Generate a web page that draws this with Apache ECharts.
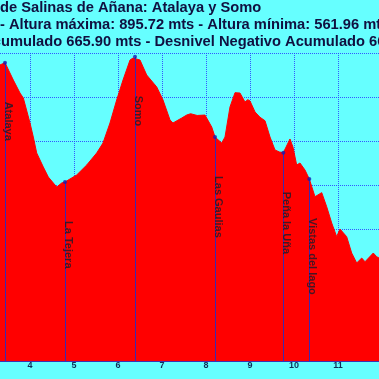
<!DOCTYPE html>
<html>
<head>
<meta charset="utf-8">
<script src="https://cdn.jsdelivr.net/npm/echarts@6/dist/echarts.min.js"></script>
<style>
html,body{margin:0;padding:0;background:#66ffff;}
#c{width:379px;height:379px;}
</style>
</head>
<body>
<div id="c"></div>
<script>
// Profile: distance (km) and altitude (m)
var distKm = [3.25,3.318,3.432,3.621,3.773,3.848,4.0,4.075,4.152,4.302,4.416,4.607,4.72,4.795,5.061,5.289,5.516,5.659,5.818,5.97,6.114,6.273,6.341,6.386,6.5,6.652,6.88,7.023,7.182,7.25,7.448,7.561,7.65,7.8,7.977,8.13,8.205,8.357,8.432,8.545,8.659,8.773,8.886,8.95,9.0,9.114,9.227,9.341,9.455,9.568,9.67,9.757,9.909,9.977,10.061,10.136,10.25,10.348,10.477,10.63,10.743,10.857,10.97,11.045,11.197,11.311,11.425,11.539,11.614,11.802,11.88,11.932,12.0];
var altitude = [875,886.4,889.0,869.3,854.5,848.9,820.5,804.5,786.4,770.5,759.1,747.7,752.3,753.4,761.4,772.7,786.4,797.7,820.5,846.6,869.3,892.0,894.3,895.72,892.0,875.0,861.4,846.6,823.9,820.5,826.1,829.5,831,829,829.5,815.9,804.5,797.7,804.5,838.6,854.9,854.5,844.3,847,845.5,833.0,827,823,804.5,789.8,787.5,786.7,802.3,793,772.7,775.0,767.0,756.8,736.7,741.3,725.3,706.8,691.3,700.0,691.3,672.7,661.4,667.0,662.8,672.7,668.5,667.0,664];

// Waypoints
var wpNames = ["Atalaya","La Tejera","Somo","Las Gaulias","Peña la Uña","Vistas del lago"];
var wpKm = [3.432,4.795,6.386,8.205,9.757,10.348];
var wpAlt = [889.0,753.4,895.72,804.5,786.7,756.8];

var titleLines = [
  "de Salinas de Añana: Atalaya y Somo",
  "- Altura máxima: 895.72 mts - Altura mínima: 561.96 mts",
  "Desnivel Positivo Acumulado 665.90 mts - Desnivel Negativo Acumulado 665.90 mts"
];

var profile = distKm.map(function(k,i){return [k, altitude[i]];});
var wps = wpKm.map(function(k,i){return {value:[k, wpAlt[i]], name: wpNames[i]};});
var wpLines = wpKm.map(function(k,i){return [{coord:[k, wpAlt[i]]},{coord:[k, 550]}];});

var chart = echarts.init(document.getElementById('c'), null, {renderer:'canvas'});
var fontFam = '"Liberation Sans", Arial, sans-serif';
var tFont = 'bold 14.7px ' + fontFam;
chart.setOption({
  backgroundColor: '#66ffff',
  animation: false,
  graphic: [
    {type:'text', x:0, y:8, style:{text:titleLines[0], font:tFont, fill:'#101040', verticalAlign:'middle'}},
    {type:'text', x:0, y:25, style:{text:titleLines[1], font:tFont, fill:'#101040', verticalAlign:'middle'}},
    {type:'text', x:-143.5, y:42, style:{text:titleLines[2], font:tFont, fill:'#101040', verticalAlign:'middle'}}
  ],
  grid: {left:-14, top:53, width:396, height:308, containLabel:false, outerBoundsMode:'none'},
  xAxis: {
    type:'value', min:3, max:12, interval:1, z:3,
    axisLine:{show:true, onZero:false, lineStyle:{color:'#4030b0', width:1}},
    axisTick:{show:false},
    axisLabel:{color:'#10305a', fontSize:9, fontWeight:'bold', fontFamily:fontFam, margin:0, showMaxLabel:false, showMinLabel:false},
    splitLine:{show:true, lineStyle:{color:'#2a3cff', type:'dotted', width:1, opacity:0.85}}
  },
  yAxis: {
    type:'value', min:550, max:900, interval:50, z:3,
    axisLine:{show:false}, axisTick:{show:false},
    axisLabel:{show:true, color:'#10305a', fontSize:9, fontWeight:'bold'},
    splitLine:{show:true, lineStyle:{color:'#2a3cff', type:'dotted', width:1, opacity:0.85}}
  },
  series: [
    {
      type:'line', data: profile, showSymbol:false, smooth:false,
      lineStyle:{color:'#ff0000', width:1},
      areaStyle:{color:'#ff0000', opacity:1, origin:'start'},
      markLine:{silent:true, symbol:'none', animation:false,
        label:{show:false},
        lineStyle:{color:'#3a2ab0', width:1, type:'solid'},
        data: wpLines}
    },
    {
      type:'scatter', data: wps, symbol:'circle', symbolSize:4, z:5,
      itemStyle:{color:'#1a1ab0'},
      label:{show:true, formatter:function(p){return p.name;}, rotate:-90,
        position:[5,41], align:'left', verticalAlign:'middle',
        fontSize:11, fontWeight:'bold', fontFamily:fontFam, color:'#1a1a2a'}
    }
  ]
});
</script>
</body>
</html>
